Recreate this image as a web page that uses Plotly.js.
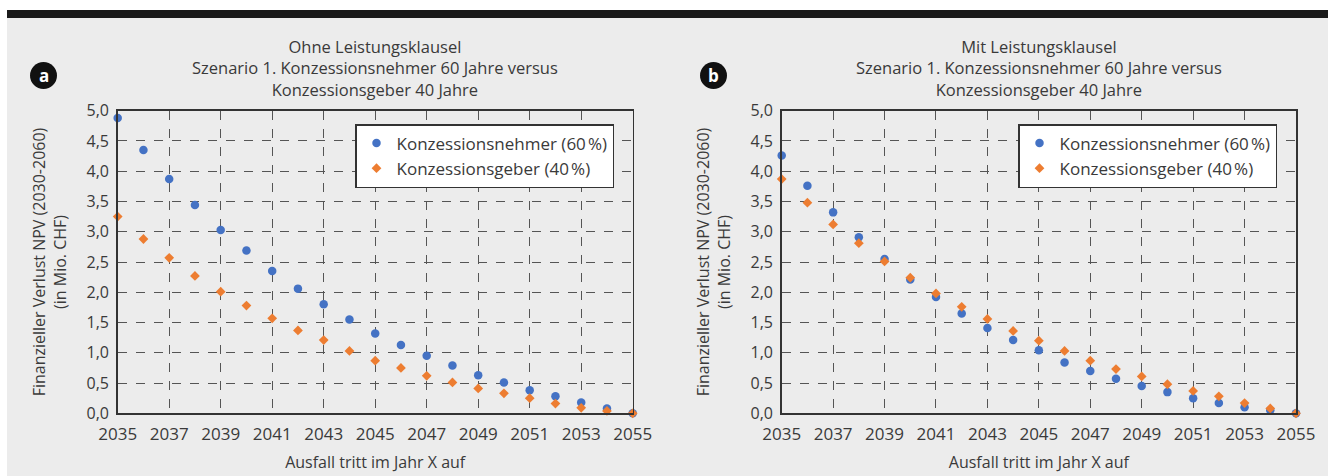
<!DOCTYPE html>
<html>
<head>
<meta charset="utf-8">
<script src="https://cdn.plot.ly/plotly-3.0.1.min.js"></script>
<style>html,body{margin:0;padding:0;background:#fff}#chart{width:1328px;height:476px}</style>
</head>
<body>
<div id="chart"></div>
<script>
// Data
const years = [2035,2036,2037,2038,2039,2040,2041,2042,2043,2044,2045,2046,2047,2048,2049,2050,2051,2052,2053,2054,2055];
// (a) Ohne Leistungsklausel
const nehmerA = [4.88,4.35,3.87,3.44,3.03,2.69,2.35,2.06,1.80,1.55,1.32,1.13,0.95,0.79,0.63,0.51,0.38,0.28,0.18,0.08,0.0];
const geberA  = [3.25,2.88,2.57,2.27,2.01,1.78,1.57,1.37,1.21,1.03,0.87,0.75,0.62,0.51,0.41,0.33,0.25,0.16,0.09,0.04,0.0];
// (b) Mit Leistungsklausel
const nehmerB = [4.26,3.76,3.32,2.91,2.55,2.21,1.92,1.65,1.41,1.21,1.04,0.84,0.70,0.57,0.45,0.35,0.25,0.17,0.10,0.05,0.0];
const geberB  = [3.87,3.48,3.12,2.81,2.51,2.24,1.98,1.76,1.56,1.36,1.20,1.03,0.87,0.73,0.61,0.48,0.37,0.28,0.17,0.08,0.0];

const seriesNames = ['Konzessionsnehmer (60\u202F%)','Konzessionsgeber (40\u202F%)'];
const titleA = 'Ohne Leistungsklausel<br>Szenario 1. Konzessionsnehmer 60 Jahre versus<br>Konzessionsgeber 40 Jahre';
const titleB = 'Mit Leistungsklausel<br>Szenario 1. Konzessionsnehmer 60 Jahre versus<br>Konzessionsgeber 40 Jahre';
const xTitle = 'Ausfall tritt im Jahr X auf';
const yTitle = 'Finanzieller Verlust NPV (2030-2060)<br>(in Mio. CHF)';

const BLUE = '#4472C4', ORANGE = '#ED7D31';
const FONT = '"Open Sans", "DejaVu Sans", sans-serif';
const TXT = '#3a3a3a';
const W = 1328, H = 476;
const px = v => v / W, py = v => 1 - v / H;

function tr(y, vals, name, color, sym, xa, ya, leg) {
  return {x: y, y: vals, name: name, type: 'scatter', mode: 'markers',
    marker: {color: color, size: sym === 'circle' ? 8.5 : 7.5, symbol: sym},
    xaxis: xa, yaxis: ya, legend: leg, cliponaxis: false};
}
const traces = [
  tr(years, nehmerA, seriesNames[0], BLUE, 'circle', 'x', 'y', 'legend'),
  tr(years, geberA, seriesNames[1], ORANGE, 'diamond', 'x', 'y', 'legend'),
  tr(years, nehmerB, seriesNames[0], BLUE, 'circle', 'x2', 'y2', 'legend2'),
  tr(years, geberB, seriesNames[1], ORANGE, 'diamond', 'x2', 'y2', 'legend2')
];

const yDom = [py(413.3), py(110.7)];
function xax(dom, anchor) {
  return {domain: dom, anchor: anchor, range: [2035, 2055], dtick: 2, tick0: 2035,
    showgrid: true, gridcolor: '#555', griddash: 'dash', gridwidth: 1,
    showline: true, linecolor: '#333', linewidth: 1.5, mirror: true, zeroline: false,
    ticks: '', ticklabelstandoff: 5, tickfont: {family: FONT, size: 17, color: TXT},
    title: {text: xTitle, font: {family: FONT, size: 16, color: TXT}, standoff: 12},
    automargin: false, fixedrange: true};
}
function yax(anchor) {
  return {domain: yDom, anchor: anchor, range: [0, 5], dtick: 0.5, tickformat: '.1f',
    showgrid: true, gridcolor: '#555', griddash: 'dash', gridwidth: 1,
    showline: true, linecolor: '#333', linewidth: 1.5, mirror: true, zeroline: false,
    ticks: '', ticklabelstandoff: 4, tickfont: {family: FONT, size: 16, color: TXT},
    title: {text: yTitle, font: {family: FONT, size: 16, color: TXT}, standoff: 16},
    automargin: false, fixedrange: true};
}
const legendStyle = {bgcolor: '#fff', bordercolor: '#333', borderwidth: 1.5,
  font: {family: FONT, size: 17, color: TXT}, xanchor: 'left', yanchor: 'top',
  itemwidth: 30, tracegroupgap: 0};

const layout = {
  width: W, height: H,
  margin: {l: 0, r: 0, t: 0, b: 0},
  paper_bgcolor: '#fff', plot_bgcolor: '#fff',
  separators: ',.',
  font: {family: FONT, color: TXT},
  showlegend: true,
  xaxis: xax([px(117.7), px(632.7)], 'y'),
  yaxis: yax('x'),
  xaxis2: xax([px(781.7), px(1296)], 'y2'),
  yaxis2: yax('x2'),
  legend: Object.assign({x: px(355), y: py(124)}, legendStyle),
  legend2: Object.assign({x: px(1018), y: py(124)}, legendStyle),
  shapes: [
    {type: 'rect', xref: 'paper', yref: 'paper', x0: px(7), x1: 1, y0: 0, y1: py(18), fillcolor: '#ececec', line: {width: 0}, layer: 'below'},
    {type: 'rect', xref: 'paper', yref: 'paper', x0: px(7), x1: 1, y0: py(18), y1: py(10), fillcolor: '#1a1a1a', line: {width: 0}, layer: 'below'},
    {type: 'circle', xref: 'paper', yref: 'paper', x0: px(30), x1: px(57), y0: py(89), y1: py(62), fillcolor: '#111', line: {width: 0}},
    {type: 'circle', xref: 'paper', yref: 'paper', x0: px(700), x1: px(727), y0: py(89), y1: py(62), fillcolor: '#111', line: {width: 0}}
  ],
  annotations: [
    {text: titleA, xref: 'paper', yref: 'paper', x: px(375.2), y: py(33), xanchor: 'center', yanchor: 'top', showarrow: false, align: 'center', font: {family: FONT, size: 16.5, color: TXT}},
    {text: titleB, xref: 'paper', yref: 'paper', x: px(1038.9), y: py(33), xanchor: 'center', yanchor: 'top', showarrow: false, align: 'center', font: {family: FONT, size: 16.5, color: TXT}},
    {text: '<b>a</b>', xref: 'paper', yref: 'paper', x: px(43.5), y: py(75.5), xanchor: 'center', yanchor: 'middle', showarrow: false, font: {family: FONT, size: 17, color: '#fff'}},
    {text: '<b>b</b>', xref: 'paper', yref: 'paper', x: px(713.5), y: py(75.5), xanchor: 'center', yanchor: 'middle', showarrow: false, font: {family: FONT, size: 17, color: '#fff'}}
  ]
};

Plotly.newPlot('chart', traces, layout, {displayModeBar: false, staticPlot: true});
</script>
</body>
</html>
